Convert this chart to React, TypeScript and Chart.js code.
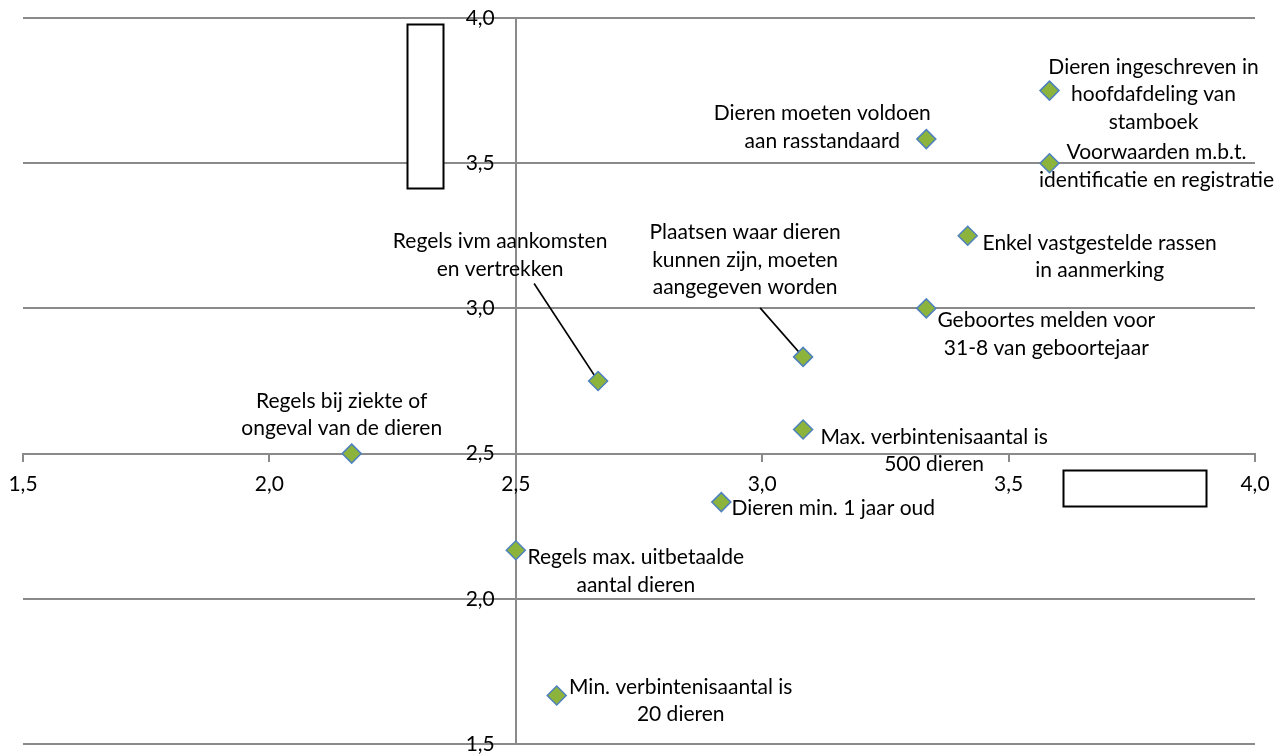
import React, { useEffect, useRef } from 'react';
import { Chart, registerables } from 'chart.js';

Chart.register(...registerables);

// ---------- data ----------
const POINT_LABELS: string[][] = [
  ['Dieren ingeschreven in', 'hoofdafdeling van', 'stamboek'],
  ['Voorwaarden m.b.t.', 'identificatie en registratie'],
  ['Dieren moeten voldoen', 'aan rasstandaard'],
  ['Enkel vastgestelde rassen', 'in aanmerking'],
  ['Geboortes melden voor', '31-8 van geboortejaar'],
  ['Plaatsen waar dieren', 'kunnen zijn, moeten', 'aangegeven worden'],
  ['Regels ivm aankomsten', 'en vertrekken'],
  ['Max. verbintenisaantal is', '500 dieren'],
  ['Regels bij ziekte of', 'ongeval van de dieren'],
  ['Dieren min. 1 jaar oud'],
  ['Regels max. uitbetaalde', 'aantal dieren'],
  ['Min. verbintenisaantal is', '20 dieren'],
];
const X_VALUES = [3.583, 3.583, 3.333, 3.417, 3.333, 3.083, 2.667, 3.083, 2.167, 2.917, 2.5, 2.583];
const Y_VALUES = [3.75, 3.5, 3.583, 3.25, 3.0, 2.833, 2.75, 2.583, 2.5, 2.333, 2.167, 1.667];
const TICK_VALUES = [1.5, 2.0, 2.5, 3.0, 3.5, 4.0];
const TICK_LABELS = ['1,5', '2,0', '2,5', '3,0', '3,5', '4,0'];

// ---------- layout / style ----------
const FONT = "Lato, 'DejaVu Sans', sans-serif";
const FONT_SIZE = 21;
const LINE_HEIGHT = 27.5;
const GRID = '#8a8a8a';
const Y_LABEL_GAP = 21;
// label block centre offsets (px) relative to each point
const LABEL_OFFSETS: [number, number][] = [
  [104, 4], [107, 3], [-104, -12], [132, 21], [120, 26], [-58, -97],
  [-98, -126], [131, 21], [-10, -39], [112, 6], [120, 21], [124, 5],
];
// leader lines: start offset relative to label centre, end at point
const LEADERS: { index: number; from: [number, number] }[] = [
  { index: 5, from: [15, 48] },
  { index: 6, from: [34, 28.5] },
];
// empty text boxes present in the original (in axis units)
const EMPTY_BOXES = [
  { x0: 2.279, x1: 2.352, y0: 3.413, y1: 3.981 },
  { x0: 3.61, x1: 3.9, y0: 2.321, y1: 2.444 },
];

const tickLabel = (v: number) => {
  const i = TICK_VALUES.findIndex((t) => Math.abs(t - v) < 1e-6);
  return i >= 0 ? TICK_LABELS[i] : '';
};

const decorPlugin = {
  id: 'decor',
  beforeDatasetsDraw(chart: any) {
    const { ctx, scales } = chart;
    const xs = scales.x;
    const ys = scales.y;
    ctx.save();
    // y tick labels, left of the crossing vertical axis
    const axisX = xs.getPixelForValue(2.5);
    ctx.font = `${FONT_SIZE}px ${FONT}`;
    ctx.fillStyle = '#000';
    ctx.textAlign = 'right';
    ctx.textBaseline = 'middle';
    ys.ticks.forEach((t: any) => {
      ctx.fillText(tickLabel(t.value), axisX - Y_LABEL_GAP, ys.getPixelForValue(t.value));
    });
    // boxes
    ctx.lineWidth = 2;
    ctx.strokeStyle = '#000';
    ctx.fillStyle = '#fff';
    EMPTY_BOXES.forEach((b) => {
      const l = Math.round(xs.getPixelForValue(b.x0)) + 0.5;
      const r = Math.round(xs.getPixelForValue(b.x1)) + 0.5;
      const t = Math.round(ys.getPixelForValue(b.y1)) + 0.5;
      const bt = Math.round(ys.getPixelForValue(b.y0)) + 0.5;
      ctx.fillRect(l, t, r - l, bt - t);
      ctx.strokeRect(l, t, r - l, bt - t);
    });
    // leader lines
    const meta = chart.getDatasetMeta(0);
    ctx.lineWidth = 1.6;
    LEADERS.forEach(({ index, from }) => {
      const p = meta.data[index];
      const cx = p.x + LABEL_OFFSETS[index][0];
      const cy = p.y + LABEL_OFFSETS[index][1];
      ctx.beginPath();
      ctx.moveTo(cx + from[0], cy + from[1]);
      ctx.lineTo(p.x, p.y);
      ctx.stroke();
    });
    ctx.restore();
  },
  afterDatasetsDraw(chart: any) {
    const { ctx } = chart;
    const meta = chart.getDatasetMeta(0);
    ctx.save();
    ctx.font = `${FONT_SIZE}px ${FONT}`;
    ctx.fillStyle = '#000';
    ctx.textAlign = 'center';
    ctx.textBaseline = 'middle';
    POINT_LABELS.forEach((lines, i) => {
      const p = meta.data[i];
      const cx = p.x + LABEL_OFFSETS[i][0];
      const cy = p.y + LABEL_OFFSETS[i][1];
      lines.forEach((ln, k) => {
        ctx.fillText(ln, cx, cy + (k - (lines.length - 1) / 2) * LINE_HEIGHT);
      });
    });
    ctx.restore();
  },
};

export default function App() {
  const ref = useRef<HTMLCanvasElement | null>(null);
  useEffect(() => {
    if (!ref.current) return;
    const chart = new Chart(ref.current, {
      type: 'scatter',
      data: {
        datasets: [
          {
            label: 'items',
            data: X_VALUES.map((x, i) => ({ x, y: Y_VALUES[i] })),
            pointStyle: 'rectRot',
            pointRadius: 9.5,
            pointHoverRadius: 9.5,
            backgroundColor: '#8cb43c',
            borderColor: '#4f81bd',
            borderWidth: 1.5,
          },
        ],
      },
      options: {
        animation: false,
        responsive: false,
        layout: { padding: { left: 43, right: 33, top: 18, bottom: 26 } },
        plugins: { legend: { display: false }, tooltip: { enabled: false } },
        scales: {
          x: {
            type: 'linear',
            min: 1.5,
            max: 4,
            position: { y: 2.5 } as any,
            afterBuildTicks: (s: any) => {
              s.ticks = TICK_VALUES.map((v) => ({ value: v }));
            },
            ticks: {
              callback: (v: any) => tickLabel(Number(v)),
              font: { family: FONT, size: FONT_SIZE },
              color: '#000',
              padding: 11,
              maxRotation: 0,
              autoSkip: false,
              z: 1,
            } as any,
            grid: { drawOnChartArea: false, drawTicks: true, tickLength: 7, color: GRID, lineWidth: 2 },
            border: { display: true, color: GRID, width: 2 },
          },
          y: {
            type: 'linear',
            min: 1.5,
            max: 4,
            position: { x: 2.5 } as any,
            afterBuildTicks: (s: any) => {
              s.ticks = TICK_VALUES.map((v) => ({ value: v }));
            },
            ticks: { display: false },
            grid: { drawOnChartArea: true, drawTicks: true, tickLength: 8, color: GRID, lineWidth: 2 },
            border: { display: true, color: GRID, width: 2 },
          },
        },
      },
      plugins: [decorPlugin],
    });
    return () => chart.destroy();
  }, []);
  return (
    <div style={{ position: 'fixed', left: 0, top: 0, width: 1288, height: 756, overflow: 'hidden', background: '#fff' }}>
      <canvas ref={ref} width={1308} height={770} style={{ display: 'block', marginLeft: -20 }} />
    </div>
  );
}
